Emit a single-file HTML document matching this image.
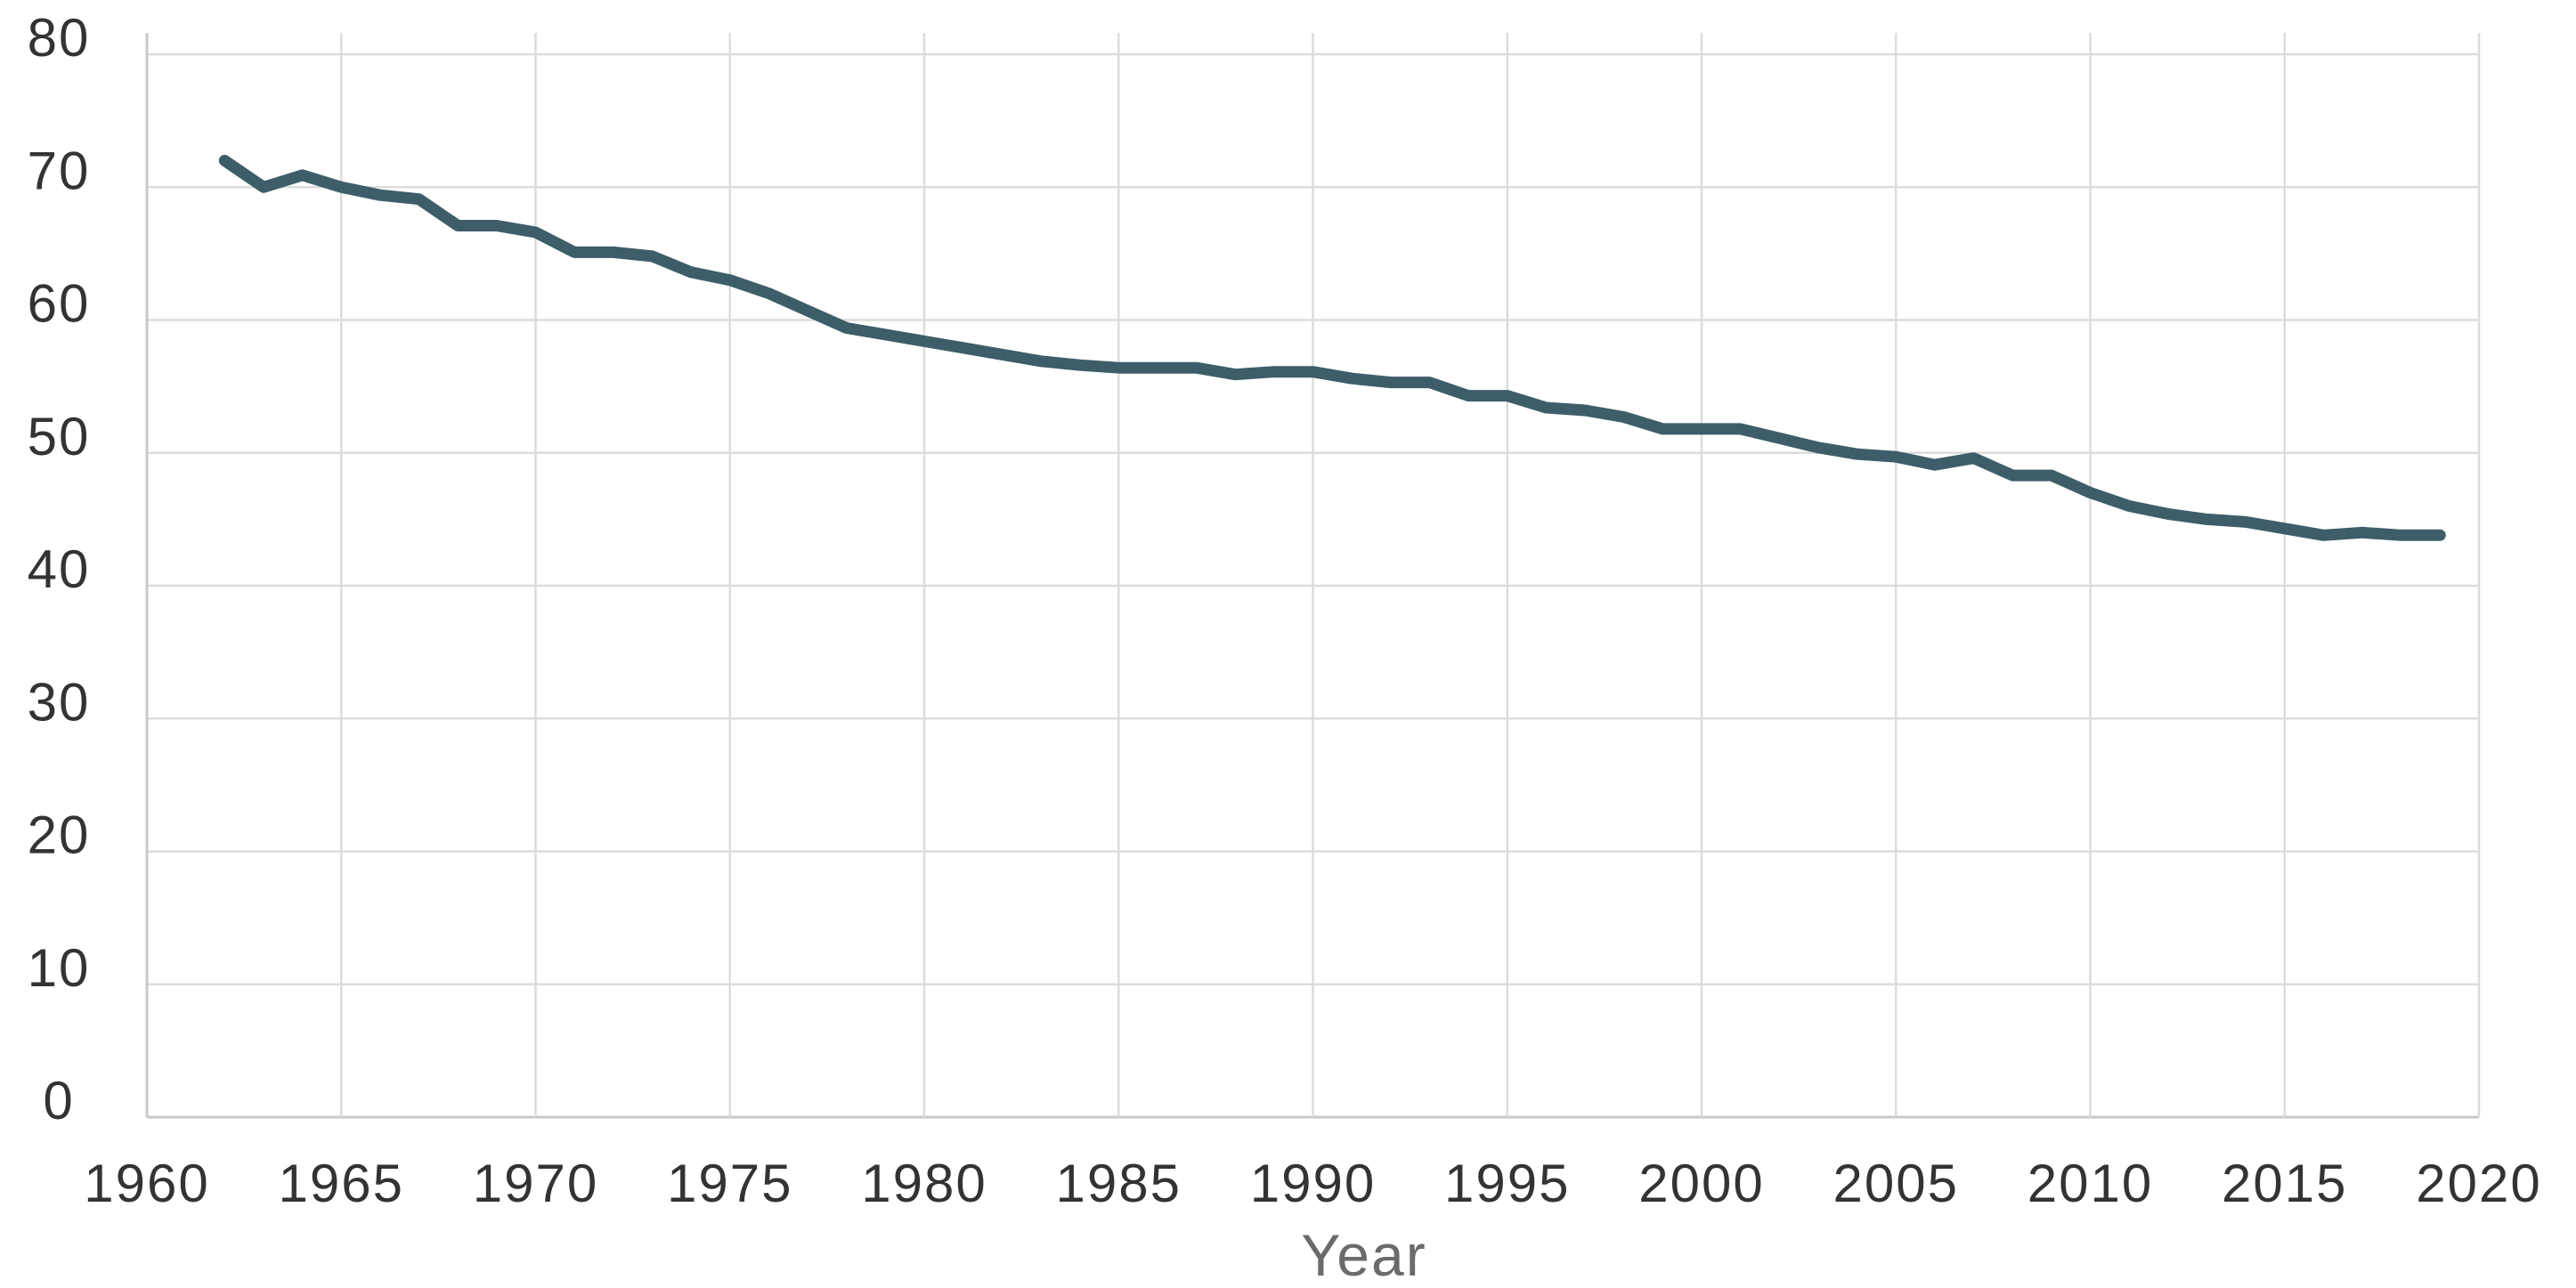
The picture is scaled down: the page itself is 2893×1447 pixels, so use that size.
<!DOCTYPE html>
<html><head><meta charset="utf-8"><style>
html,body{margin:0;padding:0;background:#fff;}
svg{display:block;}
text{font-family:"Liberation Sans",sans-serif;}
</style></head><body>
<svg id="chart" width="2893" height="1447" viewBox="0 0 2893 1447" xmlns="http://www.w3.org/2000/svg">
<g id="grid"></g>
<g id="yticks"></g>
<g id="xticks"></g>
<g id="series"></g>
<text x="1532" y="1433" font-size="66" fill="#6b6b6b" text-anchor="middle" letter-spacing="2">Year</text>
</svg>
<script>
const years = [1962,1963,1964,1965,1966,1967,1968,1969,1970,1971,1972,1973,1974,1975,1976,1977,1978,1979,1980,1981,1982,1983,1984,1985,1986,1987,1988,1989,1990,1991,1992,1993,1994,1995,1996,1997,1998,1999,2000,2001,2002,2003,2004,2005,2006,2007,2008,2009,2010,2011,2012,2013,2014,2015,2016,2017,2018,2019];
const values = [72.0,70.0,70.9,70.0,69.4,69.1,67.1,67.1,66.6,65.1,65.1,64.8,63.6,63.0,62.0,60.7,59.4,58.9,58.4,57.9,57.4,56.9,56.6,56.4,56.4,56.4,55.9,56.1,56.1,55.6,55.3,55.3,54.3,54.3,53.4,53.2,52.7,51.8,51.8,51.8,51.1,50.4,49.9,49.7,49.1,49.6,48.3,48.3,47.0,46.0,45.4,45.0,44.8,44.3,43.8,44.0,43.8,43.8];
const yTicks = [0,10,20,30,40,50,60,70,80];
const xTicks = [1960,1965,1970,1975,1980,1985,1990,1995,2000,2005,2010,2015,2020];

const NS = "http://www.w3.org/2000/svg";
const X0 = 165, X1 = 2784, Y0 = 1255, Y1 = 61;
function sx(v){ return X0 + (v - 1960) / 60 * (X1 - X0); }
function sy(v){ return Y0 - v / 80 * (Y0 - Y1); }
function mk(tag, attrs){ const e = document.createElementNS(NS, tag); for (const k in attrs) e.setAttribute(k, attrs[k]); return e; }

const grid = document.getElementById('grid');
const yt = document.getElementById('yticks');
const xt = document.getElementById('xticks');
const series = document.getElementById('series');

yTicks.forEach(v => {
  const l = mk('line', {x1: X0, x2: X1, y1: sy(v), y2: sy(v), stroke: v === 0 ? '#c8c8c8' : '#dcdcdc', 'stroke-width': v === 0 ? 3 : 2.5});
  
  
  grid.appendChild(l);
  const t = mk('text', {x: 66, y: sy(v) + 2, 'font-size': 60, fill: '#333', 'text-anchor': 'middle', 'letter-spacing': 2});
  t.textContent = v;
  
  
  yt.appendChild(t);
});
xTicks.forEach(v => {
  const l = mk('line', {x1: sx(v), x2: sx(v), y1: 37, y2: Y0, stroke: (v === 1960) ? '#c8c8c8' : '#dcdcdc', 'stroke-width': (v === 1960) ? 3 : 2.5});
  
  
  grid.appendChild(l);
  const t = mk('text', {x: sx(v), y: 1350, 'font-size': 60, fill: '#333', 'text-anchor': 'middle', 'letter-spacing': 2});
  t.textContent = v;
  
  
  xt.appendChild(t);
});
const pts = years.map((y, i) => sx(y).toFixed(1) + ',' + sy(values[i]).toFixed(1)).join(' ');
const line = mk('polyline', {points: pts, fill: 'none', stroke: '#3d5e69', 'stroke-width': 13, 'stroke-linejoin': 'round', 'stroke-linecap': 'round'});


series.appendChild(line);
</script>
</body></html>
